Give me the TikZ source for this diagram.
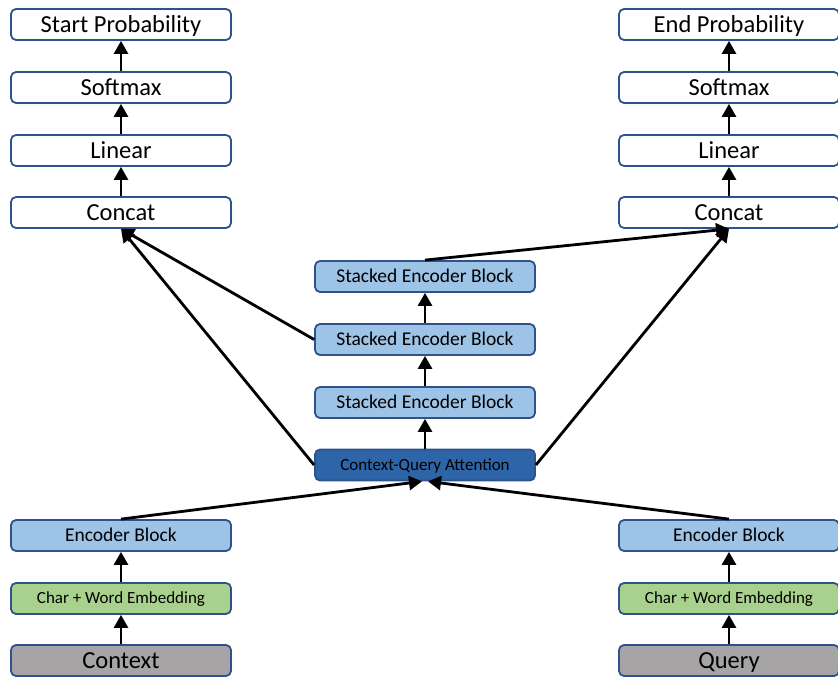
\documentclass[tikz,border=0pt]{standalone}
\usepackage{fontspec}
\setmainfont{Carlito}
\usetikzlibrary{positioning, arrows.meta}
\definecolor{qaborder}{HTML}{2F528F}
\definecolor{qalight}{HTML}{9DC3E6}
\definecolor{qadark}{HTML}{2E64A8}
\definecolor{qagreen}{HTML}{A9D18E}
\definecolor{qagrey}{HTML}{A6A4A4}

\begin{document}
\begin{tikzpicture}[
    x=1pt, y=-1pt,
    >={Triangle[length=13pt, width=14pt]},
    block/.style={
        draw=qaborder, line width=1.8pt, text=black,
        rectangle, rounded corners=5pt, inner sep=0pt, text depth=0pt,
        minimum width=220pt, minimum height=31pt, align=center,
    },
    outbox/.style={block, fill=white, font=\fontsize{24.5}{25}\selectfont, text height=15.7pt},
    stacked/.style={block, fill=qalight, font=\fontsize{19.5}{20}\selectfont, text height=12.5pt},
    attn/.style={block, fill=qadark, font=\fontsize{17}{18}\selectfont, text height=10.9pt},
    encblock/.style={block, fill=qalight, font=\fontsize{19.5}{20}\selectfont, text height=12.5pt},
    embed/.style={block, fill=qagreen, font=\fontsize{17}{18}\selectfont, text height=10.9pt},
    inbox/.style={block, fill=qagrey, font=\fontsize{24.5}{25}\selectfont, text height=15.7pt},
    arrow/.style={->, line width=2.8pt, draw=black},
]
\useasboundingbox (0,0) rectangle (838,677);

% ===== Left output head: Concat -> Linear -> Softmax -> Start Probability =====
\node[outbox] (startL)   at (121, 24.5)  {Start Probability};
\node[outbox] (softmaxL) at (121, 87.5)  {Softmax};
\node[outbox] (linearL)  at (121, 150.5) {Linear};
\node[outbox] (concatL)  at (121, 212.5) {Concat};

% ===== Right output head: Concat -> Linear -> Softmax -> End Probability =====
\node[outbox] (endR)     at (729, 24.5)  {End Probability};
\node[outbox] (softmaxR) at (729, 87.5)  {Softmax};
\node[outbox] (linearR)  at (729, 150.5) {Linear};
\node[outbox] (concatR)  at (729, 212.5) {Concat};

% ===== Middle: attention + stacked encoders =====
\node[stacked] (stack3) at (425, 276.5) {Stacked Encoder Block};
\node[stacked] (stack2) at (425, 339.5) {Stacked Encoder Block};
\node[stacked] (stack1) at (425, 402.5) {Stacked Encoder Block};
\node[attn]    (cqa)    at (425, 465)   {Context-Query Attention};

% ===== Bottom: inputs =====
\node[encblock] (encL)   at (121, 535.5) {Encoder Block};
\node[embed]    (embedL) at (121, 598.5) {Char + Word Embedding};
\node[inbox]    (ctx)    at (121, 660.5) {Context};

\node[encblock] (encR)   at (729, 535.5) {Encoder Block};
\node[embed]    (embedR) at (729, 598.5) {Char + Word Embedding};
\node[inbox]    (qry)    at (729, 660.5) {Query};

% ===== Arrows =====
% inputs up to encoders
\draw[arrow] (ctx) -- (embedL);
\draw[arrow] (embedL) -- (encL);
\draw[arrow] (qry) -- (embedR);
\draw[arrow] (embedR) -- (encR);

% both encoders into attention
\draw[arrow] (encL.north) -- ([xshift=-3pt]cqa.south);
\draw[arrow] (encR.north) -- ([xshift=3pt]cqa.south);

% stacked encoder chain
\draw[arrow] (cqa) -- (stack1);
\draw[arrow] (stack1) -- (stack2);
\draw[arrow] (stack2) -- (stack3);

% into the left Concat
\draw[arrow] (cqa.west) -- (concatL.south);
\draw[arrow] (stack2.west) -- (concatL.south);

% into the right Concat
\draw[arrow] (cqa.east) -- (concatR.south);
\draw[arrow] (stack3.north) -- (concatR.south);

% output heads
\draw[arrow] (concatL) -- (linearL);
\draw[arrow] (linearL) -- (softmaxL);
\draw[arrow] (softmaxL) -- (startL);
\draw[arrow] (concatR) -- (linearR);
\draw[arrow] (linearR) -- (softmaxR);
\draw[arrow] (softmaxR) -- (endR);

\end{tikzpicture}
\end{document}
